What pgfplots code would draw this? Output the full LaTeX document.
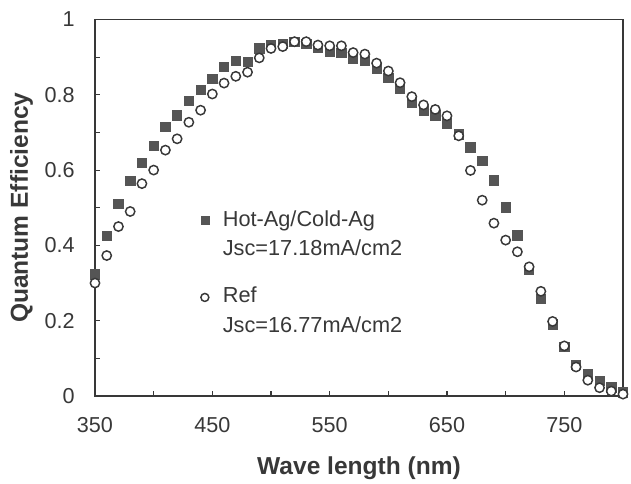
\documentclass[border=0pt]{standalone}
\usepackage{fontspec}
\setmainfont{Liberation Sans}
\usepackage{pgfplots}
\pgfplotsset{compat=1.18}
\definecolor{ink}{HTML}{383838}
\definecolor{sq}{HTML}{555555}
\begin{document}
\begin{tikzpicture}
\begin{axis}[
  scale only axis, width=396pt, height=282.4pt,
  xmin=350, xmax=800, ymin=0, ymax=1,
  xtick={350,450,550,650,750}, minor xtick={400,500,600,700,800},
  ytick={0,0.2,0.4,0.6,0.8,1}, minor ytick={0.1,0.3,0.5,0.7,0.9},
  tick pos=left, tick align=inside,
  major tick length=4pt, minor tick length=4pt,
  every tick/.style={ink, line width=0.8pt},
  axis line style={ink, line width=1.4pt},
  /pgf/number format/assume math mode=true,
  ticklabel style={font=\fontsize{16.2}{19}\selectfont, text=ink},
  yticklabel style={/pgf/number format/fixed, /pgf/number format/precision=1,
    inner sep=0pt, xshift=-15pt},
  xticklabel style={inner sep=0pt, yshift=-16pt},
  xlabel={Wave length (nm)}, ylabel={Quantum Efficiency},
  label style={font=\fontsize{18.4}{22}\selectfont\bfseries, text=ink},
  xlabel style={at={(axis description cs:0.5,-0.191)}, anchor=center},
  ylabel style={at={(axis description cs:-0.139,0.5)}, anchor=center},
  legend cell align=left,
  legend style={at={(rel axis cs:0.186,0.505)}, anchor=north west,
    draw=none, fill=none, inner sep=0pt, text=ink,
    font=\fontsize{16.3}{19}\selectfont,
    nodes={text height=12pt, text depth=4pt, inner ysep=3pt},
    /tikz/every odd column/.append style={column sep=8.5pt}},
  legend image post style={mark size=3pt},
]
\coordinate (sw) at (rel axis cs:0,0);
\coordinate (ne) at (rel axis cs:1,1);

% Hot-Ag/Cold-Ag, filled squares
\addplot[only marks, mark=square*, mark size=3.5pt,
  mark options={fill=sq, draw=sq, line width=0.5pt}] coordinates {
  (350,0.323)(360,0.425)(370,0.511)(380,0.571)(390,0.620)(400,0.665)
  (410,0.714)(420,0.745)(430,0.784)(440,0.813)(450,0.842)(460,0.875)
  (470,0.890)(480,0.888)(490,0.923)(500,0.932)(510,0.935)(520,0.940)
  (530,0.935)(540,0.925)(550,0.915)(560,0.912)(570,0.895)(580,0.890)
  (590,0.868)(600,0.845)(610,0.815)(620,0.780)(630,0.757)(640,0.745)
  (650,0.724)(660,0.695)(670,0.660)(680,0.624)(690,0.573)(700,0.501)
  (710,0.427)(720,0.335)(730,0.258)(740,0.190)(750,0.130)(760,0.083)
  (770,0.058)(780,0.040)(790,0.023)(800,0.010)};
\addlegendentry{Hot-Ag/Cold-Ag}
\addlegendimage{empty legend}
\addlegendentry[text depth=17.5pt]{Jsc=17.18mA/cm2}

% Ref, open circles
\addplot[only marks, mark=*, mark size=3.5pt,
  mark options={fill=white, draw=ink, line width=1.1pt}] coordinates {
  (350,0.300)(360,0.373)(370,0.450)(380,0.490)(390,0.564)(400,0.600)
  (410,0.653)(420,0.683)(430,0.727)(440,0.759)(450,0.802)(460,0.831)
  (470,0.849)(480,0.860)(490,0.898)(500,0.923)(510,0.928)(520,0.941)
  (530,0.941)(540,0.932)(550,0.930)(560,0.930)(570,0.912)(580,0.908)
  (590,0.884)(600,0.863)(610,0.832)(620,0.795)(630,0.773)(640,0.761)
  (650,0.744)(660,0.691)(670,0.599)(680,0.520)(690,0.459)(700,0.414)
  (710,0.383)(720,0.343)(730,0.278)(740,0.198)(750,0.133)(760,0.077)
  (770,0.042)(780,0.022)(790,0.013)(800,0.005)};
\addlegendentry{Ref}
\addlegendimage{empty legend}
\addlegendentry{Jsc=16.77mA/cm2}
\end{axis}
\pgfresetboundingbox
\path ([shift={(-71.25pt,-66pt)}]sw) rectangle ([shift={(6pt,14.6pt)}]ne);
\end{tikzpicture}
\end{document}
